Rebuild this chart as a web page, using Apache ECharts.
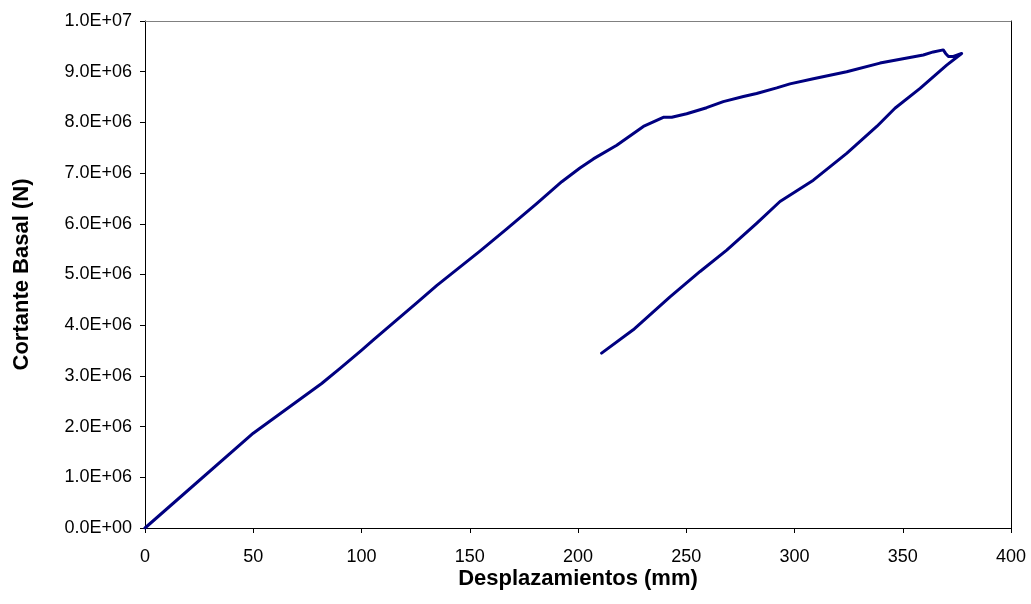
<!DOCTYPE html>
<html>
<head>
<meta charset="utf-8">
<script src="https://cdn.jsdelivr.net/npm/echarts@6/dist/echarts.min.js"></script>
<style>
html,body{margin:0;padding:0;background:#fff;}
#chart{width:1031px;height:604px;}
</style>
</head>
<body>
<div id="chart"></div>
<script>
// Displacement (mm) and base shear (N)
var dispMm = [0, 50.0, 70.0, 81.6, 90.1, 100.1, 105.5, 110.9, 125.5, 134.7, 154.7, 167.1, 180.9, 192.5, 200.9, 207.1, 217.9, 230.2, 239.4, 243.3, 250.2, 259.4, 267.1, 276.4, 282.5, 291.8, 297.9, 308.7, 324.1, 339.5, 359.5, 364.1, 368.7, 369.8, 371.1, 373.4, 377.2, 370.3, 358.0, 346.4, 338.0, 324.1, 308.7, 293.3, 282.5, 268.7, 256.4, 242.5, 225.5, 210.9];
var shearMN = [0, 1.87, 2.49, 2.85, 3.15, 3.51, 3.71, 3.91, 4.44, 4.78, 5.46, 5.90, 6.40, 6.83, 7.10, 7.28, 7.55, 7.92, 8.10, 8.10, 8.17, 8.29, 8.41, 8.51, 8.57, 8.68, 8.76, 8.86, 9.00, 9.17, 9.33, 9.39, 9.43, 9.36, 9.30, 9.30, 9.36, 9.13, 8.67, 8.28, 7.92, 7.39, 6.86, 6.44, 6.01, 5.48, 5.06, 4.56, 3.91, 3.45];
var xTicks = [0, 50, 100, 150, 200, 250, 300, 350, 400];
var yTicksN = [0, 1e6, 2e6, 3e6, 4e6, 5e6, 6e6, 7e6, 8e6, 9e6, 1e7];

var points = dispMm.map(function (x, i) { return [x, shearMN[i] * 1e6]; });

function sci(v) {
  if (v === 0) return '0.0E+00';
  var e = Math.floor(Math.log10(Math.abs(v)) + 1e-9);
  var m = v / Math.pow(10, e);
  return m.toFixed(1) + 'E+' + (e < 10 ? '0' + e : '' + e);
}

var chart = echarts.init(document.getElementById('chart'), null, {renderer: 'canvas'});
var font = 'Liberation Sans, Arial, sans-serif';
chart.setOption({
  animation: false,
  backgroundColor: '#ffffff',
  grid: {left: 145, right: 20, top: 21, bottom: 76, containLabel: false},
  xAxis: [{
    type: 'value', min: xTicks[0], max: xTicks[xTicks.length - 1], interval: 50,
    name: 'Desplazamientos (mm)', nameLocation: 'middle', nameGap: 40, nameMoveOverlap: false,
    nameTextStyle: {fontFamily: font, fontSize: 22, fontWeight: 'bold', color: '#000'},
    axisLine: {show: true, onZero: false, lineStyle: {color: '#000', width: 1}},
    axisTick: {show: true, inside: false, length: 5, lineStyle: {color: '#000'}},
    axisLabel: {fontFamily: font, fontSize: 18, color: '#000', margin: 20},
    splitLine: {show: false}
  }, {
    type: 'value', position: 'top', min: 0, max: 400,
    axisLine: {show: true, onZero: false, lineStyle: {color: '#808080', width: 1}},
    axisTick: {show: false}, axisLabel: {show: false}, splitLine: {show: false}
  }],
  yAxis: [{
    type: 'value', min: yTicksN[0], max: yTicksN[yTicksN.length - 1], interval: 1e6,
    name: 'Cortante Basal (N)', nameLocation: 'middle', nameGap: 112, nameRotate: 90, nameMoveOverlap: false,
    nameTextStyle: {fontFamily: font, fontSize: 22, fontWeight: 'bold', color: '#000'},
    axisLine: {show: true, onZero: false, lineStyle: {color: '#000', width: 1}},
    axisTick: {show: true, inside: false, length: 5, lineStyle: {color: '#000'}},
    axisLabel: {fontFamily: font, fontSize: 18, color: '#000', margin: 13, formatter: sci},
    splitLine: {show: false}
  }, {
    type: 'value', position: 'right', min: 0, max: 1e7,
    axisLine: {show: true, onZero: false, lineStyle: {color: '#000', width: 1}},
    axisTick: {show: false}, axisLabel: {show: false}, splitLine: {show: false}
  }],
  series: [{
    type: 'line', xAxisIndex: 0, yAxisIndex: 0,
    data: points, showSymbol: false, symbol: 'none', smooth: false,
    lineStyle: {color: '#000080', width: 3, cap: 'round', join: 'round'}
  }]
});
</script>
</body>
</html>
